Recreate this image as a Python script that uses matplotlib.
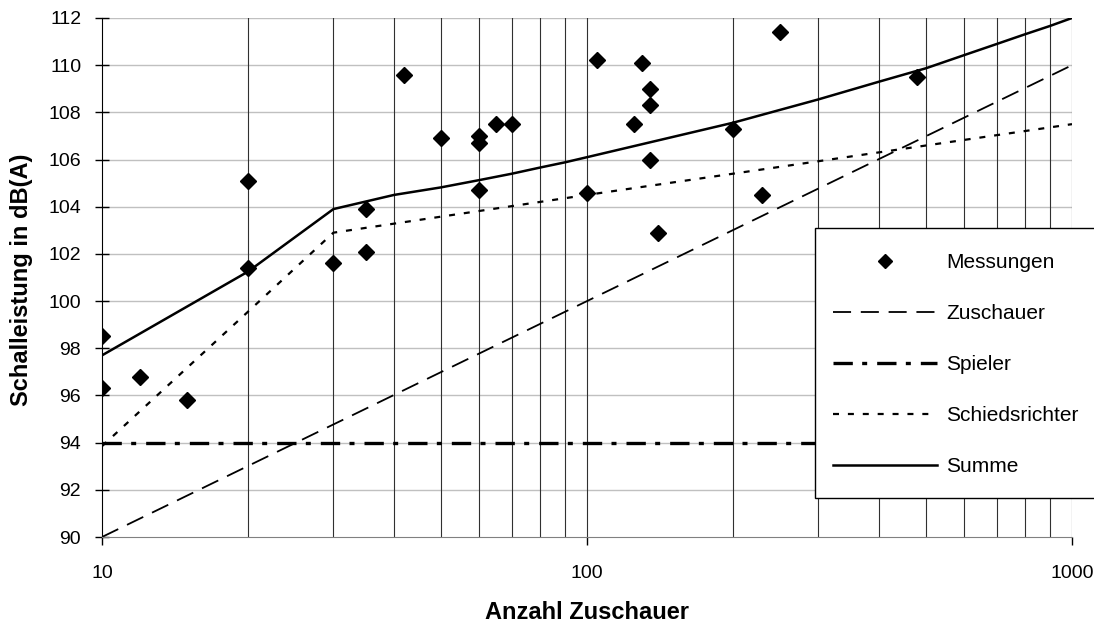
import numpy as np
import matplotlib
matplotlib.use("Agg")
import matplotlib.pyplot as plt
from matplotlib.patches import Rectangle
from matplotlib.ticker import FixedLocator, NullFormatter

plt.rcParams['font.family'] = ['Liberation Sans', 'DejaVu Sans']

# ---------------- data ----------------
mess_n = [10, 10, 12, 15, 20, 20, 30, 35, 35, 42, 50, 60, 60, 60, 65, 70,
          100, 105, 125, 130, 135, 135, 135, 140, 200, 230, 250, 480]
mess_db = [98.5, 96.3, 96.8, 95.8, 105.1, 101.4, 101.6, 103.9, 102.1, 109.6,
           106.9, 107.0, 106.7, 104.7, 107.5, 107.5, 104.6, 110.2, 107.5,
           110.1, 109.0, 108.3, 106.0, 102.9, 107.3, 104.5, 111.4, 109.5]

zusch_n = [10, 100, 1000]
zusch_db = [90.0, 100.0, 110.0]

spieler_n = [10, 1000]
spieler_db = [94.0, 94.0]

schiri_n = [10, 20, 30, 100, 200, 1000]
schiri_db = [93.85, 99.55, 102.9, 104.5, 105.4, 107.5]

summe_n = [10, 20, 30, 40, 50, 60, 70, 80, 90, 100, 200, 300, 400, 500,
           600, 700, 800, 900, 1000]
summe_db = [97.7, 101.25, 103.9, 104.5, 104.82, 105.13, 105.4, 105.66, 105.88,
            106.1, 107.56, 108.55, 109.3, 109.87, 110.43, 110.9, 111.31,
            111.66, 112.0]

y_ticks = list(range(90, 113, 2))
x_ticks = [10, 100, 1000]
x_grid = [20, 30, 40, 50, 60, 70, 80, 90, 100, 200, 300, 400, 500, 600, 700,
          800, 900, 1000]

W, H = 1094, 623
fig = plt.figure(figsize=(W / 100, H / 100), dpi=100)
ax = fig.add_axes([102 / W, 1 - 537 / H, 970 / W, 519 / H])

#--------------------grid------------------------------
for yv in y_ticks[1:]:
    ax.axhline(yv, color='#c0c0c0', lw=1.0, zorder=0)
for xv in x_grid:
    ax.axvline(xv, color='#303030', lw=0.8, zorder=0)

#--------------------curves------------------------------
ax.plot(zusch_n, zusch_db, color='black', lw=1.3, dashes=(10, 5.4),
        label='Zuschauer', zorder=2)
ax.plot(spieler_n, spieler_db, color='black', lw=2.4, dashes=(5.8, 2.8, 1.5, 3.0),
        label='Spieler', zorder=2)
ax.plot(schiri_n, schiri_db, color='black', lw=1.6, dashes=(2.7, 4.0),
        label='Schiedsrichter', zorder=2)
ax.plot(summe_n, summe_db, color='black', lw=1.8, label='Summe', zorder=2)
ax.plot(mess_n, mess_db, ls='none', marker='D', ms=8.5, color='black',
        label='Messungen', zorder=3)

#--------------------axes------------------------------
ax.set_xscale('log')
ax.set_xlim(10, 1000)
ax.set_ylim(90, 112)
ax.xaxis.set_major_locator(FixedLocator(x_ticks))
ax.xaxis.set_minor_locator(FixedLocator([]))
ax.xaxis.set_minor_formatter(NullFormatter())
ax.set_xticklabels(['10', '100', '1000'])
ax.set_yticks(y_ticks)

ax.spines['top'].set_visible(False)
ax.spines['right'].set_visible(False)
ax.spines['bottom'].set_color('#808080')
ax.spines['left'].set_color('black')
ax.tick_params(axis='y', direction='inout', length=10, width=1, labelsize=14, pad=10)
ax.tick_params(axis='x', direction='out', length=6, width=1, labelsize=14, pad=14)

ax.set_xlabel('Anzahl Zuschauer', fontsize=17, fontweight='bold')
ax.set_ylabel('Schalleistung in dB(A)', fontsize=17, fontweight='bold')
ax.xaxis.set_label_coords(0.5, (537 - 601) / 519)
ax.yaxis.set_label_coords((33 - 102) / 970, 0.495)

#--------------------legend------------------------------
fig.patches.append(Rectangle((815 / W, 1 - 498 / H), 300 / W, 270 / H,
                             transform=fig.transFigure, facecolor='white',
                             edgecolor='black', lw=1.0, zorder=1))

handles, labels = ax.get_legend_handles_labels()
order = [4, 0, 1, 2, 3]
leg = fig.legend([handles[i] for i in order], [labels[i] for i in order],
                 loc='upper left', bbox_to_anchor=(833 / W, 1 - 253 / H),
                 fontsize=15, frameon=False, handlelength=5.0,
                 handletextpad=0.43, labelspacing=1.54, borderpad=0,
                 borderaxespad=0, markerscale=0.85)
leg.set_zorder(5)

fig.savefig('out.png', dpi=100)
